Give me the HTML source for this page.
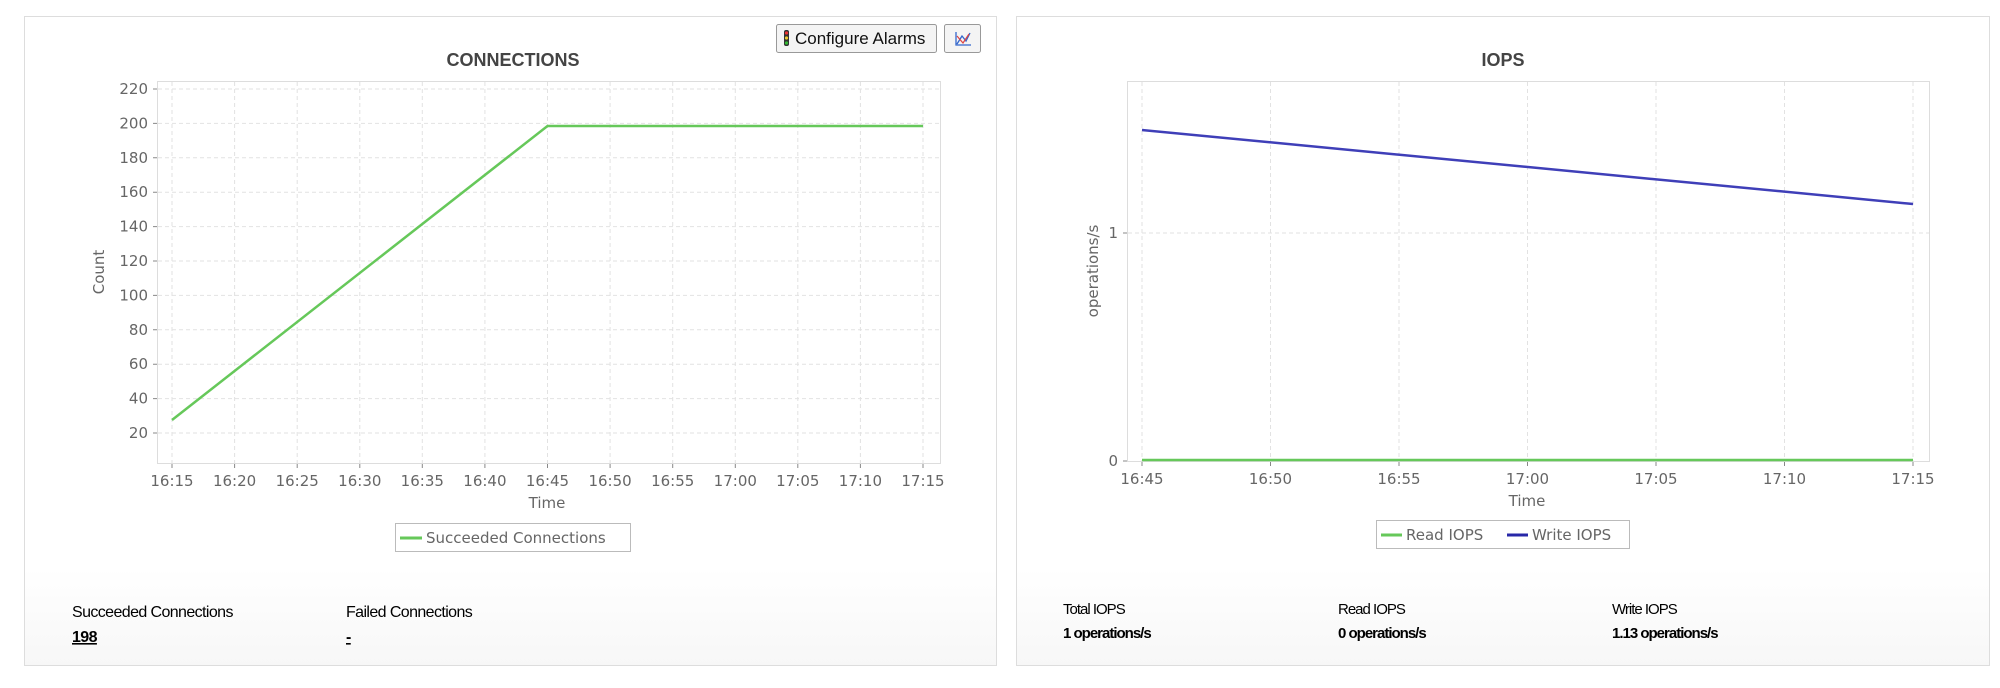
<!DOCTYPE html>
<html><head><meta charset="utf-8"><style>
html,body{margin:0;padding:0;background:#fff;width:2000px;height:688px;overflow:hidden}
svg{display:block}
.ax{font-family:"DejaVu Sans",sans-serif;font-size:15px;fill:#666}
.st{font-family:"Liberation Sans",sans-serif;font-size:15px;letter-spacing:-1px;fill:#000}
.sl{font-family:"Liberation Sans",sans-serif;font-size:16px;letter-spacing:-0.6px;fill:#000}
</style></head><body>
<svg width="2000" height="688" viewBox="0 0 2000 688" xmlns="http://www.w3.org/2000/svg">
<defs><linearGradient id="g" x1="0" y1="0" x2="0" y2="1"><stop offset="0.85" stop-color="#fff"/><stop offset="1" stop-color="#f7f7f7"/></linearGradient></defs>
<!-- left panel -->
<rect x="24.5" y="16.5" width="972" height="649" fill="url(#g)" stroke="#ddd"/>
<text x="513" y="66" text-anchor="middle" font-family="Liberation Sans,sans-serif" font-weight="bold" font-size="18" fill="#444">CONNECTIONS</text>
<rect x="776.5" y="24.5" width="160" height="28" rx="2" fill="#f4f4f4" stroke="#999"/>
<rect x="784" y="30" width="5" height="16" rx="2" fill="#333"/>
<circle cx="786.5" cy="33" r="1.6" fill="#e33"/><circle cx="786.5" cy="38" r="1.6" fill="#ec3"/><circle cx="786.5" cy="43" r="1.6" fill="#3b3"/>
<text x="795" y="44" font-family="Liberation Sans,sans-serif" font-size="17" fill="#111">Configure Alarms</text>
<rect x="944.5" y="24.5" width="36" height="28" rx="2" fill="#f4f4f4" stroke="#999"/>
<path d="M956 32v13h15M957 44l5-8 4 5 4-8" stroke="#36c" fill="none" stroke-width="1.3"/><path d="M957 36l6 7 6-9" stroke="#d44" fill="none" stroke-width="1.2"/>
<rect x="157.5" y="81.5" width="783" height="382" fill="#fff" stroke="#ddd"/>
<g stroke="#e2e2e2" stroke-dasharray="4,3">
<line x1="158" x2="940" y1="89" y2="89"/><line x1="158" x2="940" y1="123.4" y2="123.4"/><line x1="158" x2="940" y1="157.8" y2="157.8"/><line x1="158" x2="940" y1="192.2" y2="192.2"/><line x1="158" x2="940" y1="226.6" y2="226.6"/><line x1="158" x2="940" y1="261" y2="261"/><line x1="158" x2="940" y1="295.4" y2="295.4"/><line x1="158" x2="940" y1="329.8" y2="329.8"/><line x1="158" x2="940" y1="364.2" y2="364.2"/><line x1="158" x2="940" y1="398.6" y2="398.6"/><line x1="158" x2="940" y1="433" y2="433"/>
<line x1="172" x2="172" y1="82" y2="463"/><line x1="234.6" x2="234.6" y1="82" y2="463"/><line x1="297.2" x2="297.2" y1="82" y2="463"/><line x1="359.8" x2="359.8" y1="82" y2="463"/><line x1="422.3" x2="422.3" y1="82" y2="463"/><line x1="484.9" x2="484.9" y1="82" y2="463"/><line x1="547.5" x2="547.5" y1="82" y2="463"/><line x1="610.1" x2="610.1" y1="82" y2="463"/><line x1="672.7" x2="672.7" y1="82" y2="463"/><line x1="735.3" x2="735.3" y1="82" y2="463"/><line x1="797.8" x2="797.8" y1="82" y2="463"/><line x1="860.4" x2="860.4" y1="82" y2="463"/><line x1="923" x2="923" y1="82" y2="463"/>
</g>
<g stroke="#888">
<path d="M153 89h4M153 123.4h4M153 157.8h4M153 192.2h4M153 226.6h4M153 261h4M153 295.4h4M153 329.8h4M153 364.2h4M153 398.6h4M153 433h4"/>
<path d="M172 464v4M234.6 464v4M297.2 464v4M359.8 464v4M422.3 464v4M484.9 464v4M547.5 464v4M610.1 464v4M672.7 464v4M735.3 464v4M797.8 464v4M860.4 464v4M923 464v4"/>
</g>
<g class="ax" text-anchor="end">
<text x="148" y="94">220</text><text x="148" y="128.4">200</text><text x="148" y="162.8">180</text><text x="148" y="197.2">160</text><text x="148" y="231.6">140</text><text x="148" y="266">120</text><text x="148" y="300.4">100</text><text x="148" y="334.8">80</text><text x="148" y="369.2">60</text><text x="148" y="403.6">40</text><text x="148" y="438">20</text>
</g>
<g class="ax" text-anchor="middle">
<text x="172" y="486">16:15</text><text x="234.6" y="486">16:20</text><text x="297.2" y="486">16:25</text><text x="359.8" y="486">16:30</text><text x="422.3" y="486">16:35</text><text x="484.9" y="486">16:40</text><text x="547.5" y="486">16:45</text><text x="610.1" y="486">16:50</text><text x="672.7" y="486">16:55</text><text x="735.3" y="486">17:00</text><text x="797.8" y="486">17:05</text><text x="860.4" y="486">17:10</text><text x="923" y="486">17:15</text>
<text x="547" y="508">Time</text>
<text transform="translate(104,272) rotate(-90)">Count</text>
</g>
<polyline points="172,420 547.5,126 923,126" fill="none" stroke="#66c85a" stroke-width="2.5"/>
<rect x="395.5" y="523.5" width="235" height="28" fill="#fff" stroke="#bbb"/>
<line x1="400" x2="422" y1="538" y2="538" stroke="#66c85a" stroke-width="3"/>
<text class="ax" x="426" y="543">Succeeded Connections</text>
<text class="sl" x="72" y="617">Succeeded Connections</text>
<text class="sl" x="72" y="642" font-weight="bold" text-decoration="underline">198</text>
<text class="sl" x="346" y="617">Failed Connections</text>
<text class="sl" x="346" y="642" font-weight="bold" text-decoration="underline">-</text>
<!-- right panel -->
<rect x="1016.5" y="16.5" width="973" height="649" fill="url(#g)" stroke="#ddd"/>
<text x="1503" y="66" text-anchor="middle" font-family="Liberation Sans,sans-serif" font-weight="bold" font-size="18" fill="#444">IOPS</text>
<rect x="1127.5" y="81.5" width="802" height="380" fill="#fff" stroke="#ddd"/>
<g stroke="#e2e2e2" stroke-dasharray="4,3">
<line x1="1128" x2="1929" y1="233" y2="233"/>
<line x1="1142" x2="1142" y1="82" y2="461"/><line x1="1270.5" x2="1270.5" y1="82" y2="461"/><line x1="1399" x2="1399" y1="82" y2="461"/><line x1="1527.5" x2="1527.5" y1="82" y2="461"/><line x1="1656" x2="1656" y1="82" y2="461"/><line x1="1784.5" x2="1784.5" y1="82" y2="461"/><line x1="1913" x2="1913" y1="82" y2="461"/>
</g>
<g stroke="#888">
<path d="M1123 233h4M1123 461h4"/>
<path d="M1142 462v4M1270.5 462v4M1399 462v4M1527.5 462v4M1656 462v4M1784.5 462v4M1913 462v4"/>
</g>
<g class="ax" text-anchor="end"><text x="1118" y="238">1</text><text x="1118" y="466">0</text></g>
<g class="ax" text-anchor="middle">
<text x="1142" y="484">16:45</text><text x="1270.5" y="484">16:50</text><text x="1399" y="484">16:55</text><text x="1527.5" y="484">17:00</text><text x="1656" y="484">17:05</text><text x="1784.5" y="484">17:10</text><text x="1913" y="484">17:15</text>
<text x="1527" y="506">Time</text>
<text transform="translate(1098,271) rotate(-90)">operations/s</text>
</g>
<line x1="1142" x2="1913" y1="460" y2="460" stroke="#66c85a" stroke-width="2.5"/>
<line x1="1142" x2="1913" y1="130" y2="204" stroke="#3f3fb8" stroke-width="2.5"/>
<rect x="1376.5" y="520.5" width="253" height="28" fill="#fff" stroke="#bbb"/>
<line x1="1381" x2="1402" y1="535" y2="535" stroke="#66c85a" stroke-width="3"/>
<text class="ax" x="1406" y="540">Read IOPS</text>
<line x1="1507" x2="1528" y1="535" y2="535" stroke="#2828a8" stroke-width="3"/>
<text class="ax" x="1532" y="540">Write IOPS</text>
<text class="st" x="1063" y="614">Total IOPS</text><text class="st" x="1063" y="638" font-weight="bold">1 operations/s</text>
<text class="st" x="1338" y="614">Read IOPS</text><text class="st" x="1338" y="638" font-weight="bold">0 operations/s</text>
<text class="st" x="1612" y="614">Write IOPS</text><text class="st" x="1612" y="638" font-weight="bold">1.13 operations/s</text>
</svg>
</body></html>
